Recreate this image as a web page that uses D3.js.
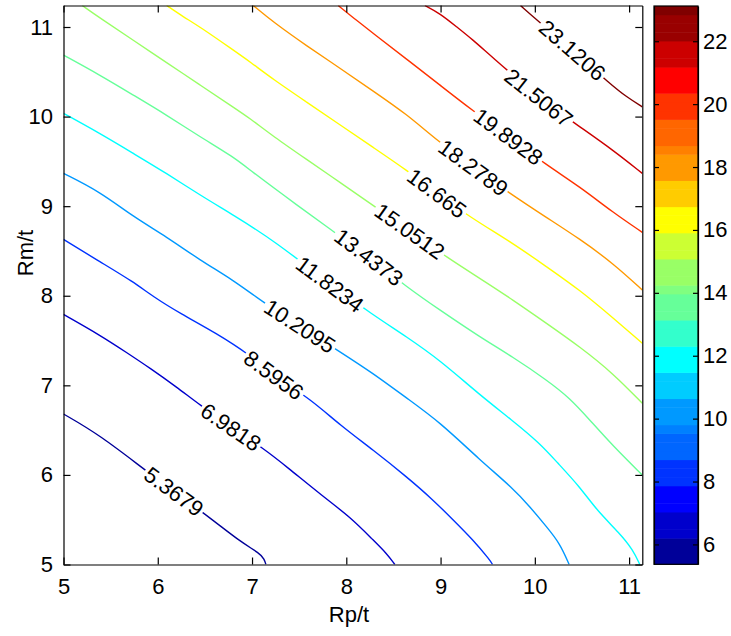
<!DOCTYPE html>
<html><head><meta charset="utf-8">
<script src="https://cdn.jsdelivr.net/npm/d3@7"></script>
<style>body{margin:0;background:#fff}</style>
</head><body>
<svg id="chart" width="731" height="636"></svg>
<script>
// ---------- data ----------
const levels = [5.3679, 6.9818, 8.5956, 10.2095, 11.8234, 13.4373, 15.0512, 16.665, 18.2789, 19.8928, 21.5067, 23.1206];
const levelLabels = ["5.3679","6.9818","8.5956","10.2095","11.8234","13.4373","15.0512","16.665","18.2789","19.8928","21.5067","23.1206"];
const contour01 = [[5,6.68],[5.387,6.445],[5.917,6.01],[6.519,5.552],[6.872,5.255],[7.084,5.125],[7.13,5.06],[7.147,5.0]];
const contour02 = [[5,7.792],[5.387,7.561],[5.670,7.366],[5.917,7.193],[6.200,6.981],[6.447,6.780],[6.776,6.536],[7.119,6.297],[7.367,6.092],[7.755,5.757],[8.038,5.533],[8.285,5.273],[8.427,5.125],[8.515,5.0]];
const contour03 = [[5,8.629],[5.387,8.379],[5.740,8.156],[5.952,7.989],[6.235,7.804],[6.625,7.580],[6.978,7.338],[7.232,7.115],[7.632,6.836],[7.932,6.557],[8.285,6.278],[8.639,5.980],[8.922,5.720],[9.134,5.497],[9.346,5.273],[9.523,5.050],[9.551,5.0]];
const contour04 = [[5,9.366],[5.387,9.161],[5.740,8.882],[6.094,8.658],[6.447,8.398],[6.801,8.175],[7.084,7.952],[7.508,7.662],[7.932,7.375],[8.285,7.134],[8.639,6.858],[8.992,6.590],[9.417,6.166],[9.770,5.850],[9.947,5.645],[10.124,5.422],[10.265,5.237],[10.364,5.0]];
const contour05 = [[5,10.036],[5.387,9.812],[5.740,9.589],[6.094,9.366],[6.447,9.124],[6.801,8.901],[7.225,8.622],[7.826,8.130],[8.285,7.785],[8.639,7.542],[8.992,7.282],[9.417,6.892],[9.756,6.613],[10.053,6.353],[10.230,6.147],[10.477,5.868],[10.654,5.608],[10.901,5.348],[11.042,5.162],[11.113,5.0]];
const contour06 = [[5,10.686],[5.387,10.463],[5.740,10.240],[6.094,10.017],[6.447,9.775],[6.801,9.551],[6.978,9.403],[7.402,9.068],[8.240,8.432],[8.639,8.100],[8.992,7.840],[9.417,7.539],[9.767,7.316],[10.127,7.059],[10.371,6.858],[10.583,6.613],[10.830,6.323],[11.14,5.999]];
const contour07 = [[5.199,11.24],[5.387,11.100],[5.740,10.852],[6.094,10.603],[6.447,10.354],[6.801,10.105],[6.978,9.980],[7.225,9.779],[7.579,9.522],[7.932,9.266],[8.285,9.009],[8.674,8.722],[9.077,8.421],[9.417,8.194],[9.770,7.952],[10.124,7.692],[10.477,7.431],[10.830,7.134],[11.14,6.799]];
const contour08 = [[6.094,11.24],[6.270,11.114],[6.447,11.002],[6.801,10.742],[6.978,10.612],[7.225,10.415],[7.579,10.162],[7.932,9.909],[8.285,9.656],[8.639,9.403],[8.961,9.146],[9.311,8.878],[9.770,8.585],[10.124,8.324],[10.477,8.064],[10.830,7.752],[11.14,7.469]];
const contour09 = [[7.013,11.24],[7.225,11.055],[7.579,10.790],[7.932,10.541],[8.285,10.285],[8.639,10.028],[8.957,9.738],[9.348,9.431],[9.735,9.143],[10.124,8.873],[10.477,8.634],[10.830,8.362],[11.14,8.064]];
const contour10 = [[7.914,11.24],[8.109,11.074],[8.285,10.929],[8.639,10.642],[8.993,10.352],[9.332,10.073],[9.719,9.777],[10.124,9.459],[10.477,9.217],[10.830,8.929],[11.14,8.708]];
const contour11 = [[8.834,11.24],[8.993,11.152],[9.170,11.002],[9.346,10.854],[9.523,10.686],[10.042,10.212],[10.477,9.886],[10.830,9.626],[11.14,9.366]];
const contour12 = [[9.848,11.24],[9.982,11.114],[10.398,10.742],[10.813,10.352],[10.972,10.221],[11.14,10.109]];
const contours = [contour01,contour02,contour03,contour04,contour05,contour06,contour07,contour08,contour09,contour10,contour11,contour12];
const labelX = [6.172, 6.776, 7.232, 7.508, 7.826, 8.240, 8.674, 8.961, 9.348, 9.719, 10.042, 10.398];
const xTicks = [5, 6, 7, 8, 9, 10, 11];
const yTicks = [5, 6, 7, 8, 9, 10, 11];
const cbTicks = [6, 8, 10, 12, 14, 16, 18, 20, 22];
const xDomain = [5, 11.14];
const yDomain = [5, 11.24];
const cDomain = [5.3679, 23.1206];
const xTitle = "Rp/t";
const yTitle = "Rm/t";

// ---------- helpers ----------
const FONT = "'Liberation Sans', Arial, Helvetica, sans-serif";
const FS = 22;
function jet64(i) { // MATLAB jet(64), i = 1..64
  const cl = v => Math.max(0, Math.min(1, v));
  const r = i <= 24 ? 0 : i <= 40 ? (i - 24) / 16 : i <= 56 ? 1 : (72 - i) / 16;
  const g = i <= 8 ? 0 : i <= 24 ? (i - 8) / 16 : i <= 40 ? 1 : i <= 56 ? (56 - i) / 16 : 0;
  const b = i <= 8 ? (i + 8) / 16 : i <= 24 ? 1 : i <= 40 ? (40 - i) / 16 : 0;
  return [cl(r), cl(g), cl(b)];
}
function quant(v) { // palette quantisation seen in the picture
  const x = v * 255;
  if (Math.abs(x - 127.5) < 0.01) return 128;
  return Math.round(x / 51) * 51;
}
function jetColor(i) {
  const [r, g, b] = jet64(i);
  return d3.rgb(quant(r), quant(g), quant(b)).formatHex();
}
function levelIndex(v) {
  return Math.max(1, Math.min(64, Math.floor((v - cDomain[0]) / (cDomain[1] - cDomain[0]) * 64) + 1));
}

// ---------- layout ----------
const svg = d3.select("#chart");
const x = d3.scaleLinear().domain(xDomain).range([63.5, 642.3]);
const y = d3.scaleLinear().domain(yDomain).range([564.5, 5.5]);
const c = d3.scaleLinear().domain(cDomain).range([564.3, 6]);
const cbLeft = 654, cbRight = 698;

svg.append("rect").attr("width", 731).attr("height", 636).attr("fill", "#fff");

svg.append("clipPath").attr("id", "clip").append("rect")
  .attr("x", x.range()[0]).attr("y", y.range()[1])
  .attr("width", x.range()[1] - x.range()[0]).attr("height", y.range()[0] - y.range()[1]);

const plot = svg.append("g").attr("clip-path", "url(#clip)");
const line = d3.line().x(d => x(d[0])).y(d => y(d[1])).curve(d3.curveBasis);

contours.forEach((pts, k) => {
  plot.append("path").attr("d", line(pts)).attr("fill", "none")
    .attr("stroke", jetColor(levelIndex(levels[k]))).attr("stroke-width", 1.4);
});

// contour labels
function interpAt(pix, px) {
  for (let i = 0; i < pix.length - 1; i++) {
    const a = pix[i], b = pix[i + 1];
    if ((px >= a[0] && px <= b[0]) || (px <= a[0] && px >= b[0])) {
      const t = (px - a[0]) / (b[0] - a[0] || 1);
      return a[1] + t * (b[1] - a[1]);
    }
  }
  return pix[pix.length - 1][1];
}
const labG = svg.append("g");
contours.forEach((pts, k) => {
  const pix = pts.map(d => [x(d[0]), y(d[1])]);
  const cx = x(labelX[k]);
  const cy = interpAt(pix, cx);
  const y1 = interpAt(pix, cx - 30), y2 = interpAt(pix, cx + 30);
  const ang = Math.atan2(y2 - y1, 60) * 180 / Math.PI;
  const g = labG.append("g").attr("transform", `translate(${cx},${cy}) rotate(${ang})`);
  const rect = g.append("rect").attr("fill", "#fff");
  const t = g.append("text").text(levelLabels[k]).attr("text-anchor", "middle")
    .attr("dy", "0.36em").attr("font-family", FONT).attr("font-size", FS).attr("fill", "#000");
  const w = t.node().getComputedTextLength() + 4;
  rect.attr("x", -w / 2).attr("y", -8).attr("width", w).attr("height", 16);
});

// axes
function styleAxis(g) {
  g.selectAll("path,line").attr("stroke", "#000").attr("stroke-width", 1.2);
  g.selectAll("text").attr("font-family", FONT).attr("font-size", FS).attr("fill", "#000");
}
svg.append("g").attr("transform", `translate(0,${y.range()[0]})`)
  .call(d3.axisBottom(x).tickValues(xTicks).tickFormat(d3.format("d")).tickSizeInner(-7).tickSizeOuter(0).tickPadding(13.5))
  .call(styleAxis);
svg.append("g").attr("transform", `translate(0,${y.range()[1]})`)
  .call(d3.axisTop(x).tickValues(xTicks).tickFormat("").tickSizeInner(-7).tickSizeOuter(0))
  .call(styleAxis);
svg.append("g").attr("transform", `translate(${x.range()[0]},0)`)
  .call(d3.axisLeft(y).tickValues(yTicks).tickFormat(d3.format("d")).tickSizeInner(-7).tickSizeOuter(0).tickPadding(10.5))
  .call(styleAxis);
svg.append("g").attr("transform", `translate(${x.range()[1]},0)`)
  .call(d3.axisRight(y).tickValues(yTicks).tickFormat("").tickSizeInner(-7).tickSizeOuter(0))
  .call(styleAxis);

svg.append("text").attr("x", 349).attr("y", 622).attr("text-anchor", "middle")
  .attr("font-family", FONT).attr("font-size", FS).text(xTitle);
svg.append("text").attr("transform", "translate(33,253) rotate(-90)").attr("text-anchor", "middle")
  .attr("font-family", FONT).attr("font-size", FS).text(yTitle);

// colorbar
const step = (cDomain[1] - cDomain[0]) / 64;
const cb = svg.append("g");
d3.range(1, 65).forEach(i => {
  const v0 = cDomain[0] + (i - 1) * step, v1 = cDomain[0] + i * step;
  cb.append("rect").attr("x", cbLeft).attr("width", cbRight - cbLeft)
    .attr("y", c(v1)).attr("height", c(v0) - c(v1) + 0.5)
    .attr("fill", jetColor(i));
});
svg.append("g").attr("transform", `translate(${cbRight},0)`)
  .call(d3.axisRight(c).tickValues(cbTicks).tickFormat(d3.format("d")).tickSizeInner(-5).tickSizeOuter(0).tickPadding(5))
  .call(styleAxis);
svg.append("g").attr("transform", `translate(${cbLeft},0)`)
  .call(d3.axisLeft(c).tickValues(cbTicks).tickFormat("").tickSizeInner(-5).tickSizeOuter(0))
  .call(styleAxis);
svg.append("rect").attr("x", cbLeft).attr("y", c.range()[1]).attr("width", cbRight - cbLeft)
  .attr("height", c.range()[0] - c.range()[1]).attr("fill", "none").attr("stroke", "#000").attr("stroke-width", 1.2);
</script>
</body></html>
